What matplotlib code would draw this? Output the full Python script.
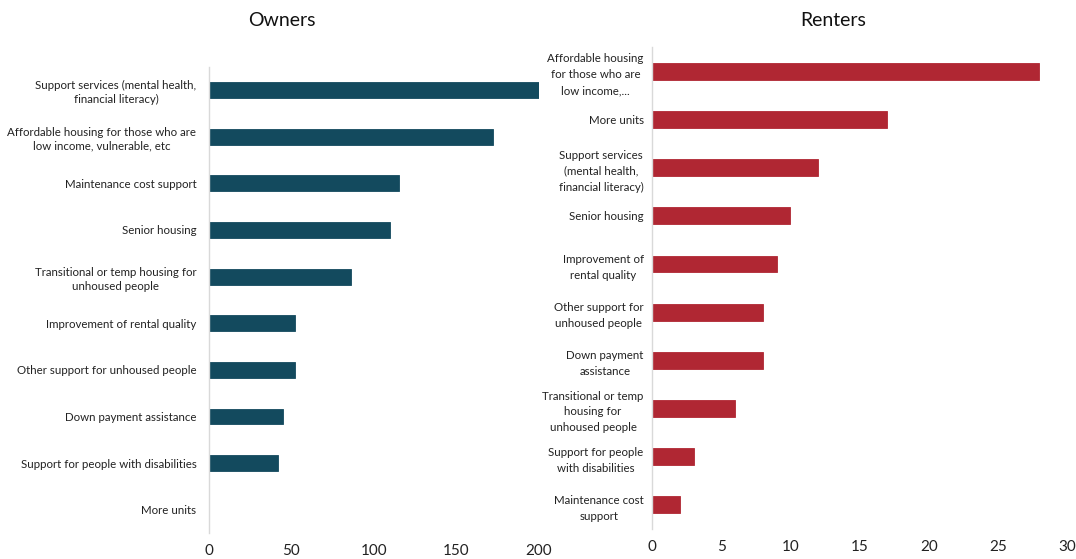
import matplotlib.pyplot as plt

# ------------------------------------
# DATA
# ------------------------------------

owner_labels = [
    "Support services (mental health,\nfinancial literacy)",
    "Affordable housing for those who are\nlow income, vulnerable, etc",
    "Maintenance cost support",
    "Senior housing",
    "Transitional or temp housing for\nunhoused people",
    "Improvement of rental quality",
    "Other support for unhoused people",
    "Down payment assistance",
    "Support for people with disabilities",
    "More units",
]
owner_values = [200, 172, 115, 110, 86, 52, 52, 45, 42, 0]
owner_ticks = [0, 50, 100, 150, 200]

renter_labels = [
    "Affordable housing\nfor those who are\nlow income,...",
    "More units",
    "Support services\n(mental health,\nfinancial literacy)",
    "Senior housing",
    "Improvement of\nrental quality",
    "Other support for\nunhoused people",
    "Down payment\nassistance",
    "Transitional or temp\nhousing for\nunhoused people",
    "Support for people\nwith disabilities",
    "Maintenance cost\nsupport",
]
renter_values = [28, 17, 12, 10, 9, 8, 8, 6, 3, 2]
renter_ticks = [0, 5, 10, 15, 20, 25, 30]

OWNER_COLOR = "#134A5E"
RENTER_COLOR = "#B02733"

plt.rcParams["font.family"] = ["Lato", "DejaVu Sans"]

fig = plt.figure(figsize=(10.76, 5.59), dpi=100)
ax1 = fig.add_axes([0.1942, 0.0465, 0.3067, 0.834])
ax2 = fig.add_axes([0.606, 0.0537, 0.3857, 0.862])


def style(ax, labels, values, ticks, color, height, pad, spacing):
    y = list(range(len(labels)))
    ax.barh(y, values, height=height, color=color, edgecolor=color, linewidth=0.6)
    ax.set_yticks(y)
    ax.set_yticklabels(labels, fontsize=8.3, color="#222222",
                       multialignment="center", linespacing=spacing)
    ax.set_ylim(len(labels) - 0.5, -0.5)
    ax.set_xlim(ticks[0], ticks[-1])
    ax.set_xticks(ticks)
    ax.tick_params(axis="x", length=0, labelsize=11, pad=8, colors="#222222")
    ax.tick_params(axis="y", length=0, pad=pad)
    for s in ["top", "right", "bottom"]:
        ax.spines[s].set_visible(False)
    ax.spines["left"].set_color("#D9D9D9")
    ax.spines["left"].set_linewidth(1)


style(ax1, owner_labels, owner_values, owner_ticks, OWNER_COLOR, 0.34, 9, 1.35)
style(ax2, renter_labels, renter_values, renter_ticks, RENTER_COLOR, 0.35, 6, 1.55)

fig.text(282 / 1076, 1 - 21 / 559, "Owners", ha="center", va="center",
         fontsize=14, color="#111111")
fig.text(833 / 1076, 1 - 21 / 559, "Renters", ha="center", va="center",
         fontsize=14, color="#111111")

fig.savefig("out.png", dpi=100)
